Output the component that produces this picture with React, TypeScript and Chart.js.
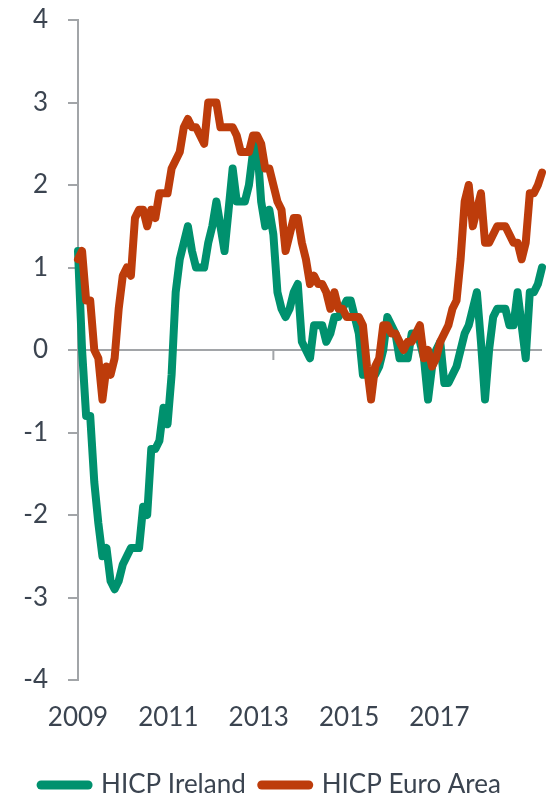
import React, { useEffect, useRef } from 'react';
import { Chart, registerables } from 'chart.js';

Chart.register(...registerables);

const seriesNames = ['HICP Ireland', 'HICP Euro Area'];
const yearLabels = ['2009', '2011', '2013', '2015', '2017'];

// Annual HICP inflation, %, monthly from January 2009 to July 2018
const irelandHicp = [
  1.2, 0.0, -0.8, -0.8, -1.6, -2.1, -2.5, -2.4, -2.8, -2.9, -2.8, -2.6,
  -2.5, -2.4, -2.4, -2.4, -1.9, -2.0, -1.2, -1.2, -1.1, -0.7, -0.9, -0.3,
  0.7, 1.1, 1.3, 1.5, 1.2, 1.0, 1.0, 1.0, 1.3, 1.5, 1.8, 1.5,
  1.2, 1.7, 2.2, 1.8, 1.8, 1.8, 2.0, 2.4, 2.5, 1.8, 1.5, 1.7,
  1.4, 0.7, 0.5, 0.4, 0.5, 0.7, 0.8, 0.1, 0.0, -0.1, 0.3, 0.3,
  0.3, 0.1, 0.2, 0.4, 0.4, 0.5, 0.6, 0.6, 0.4, 0.2, -0.3, -0.3,
  -0.3, -0.3, -0.2, 0.0, 0.4, 0.3, 0.2, -0.1, -0.1, -0.1, 0.2, 0.2,
  0.1, -0.1, -0.6, -0.2, 0.0, 0.1, -0.4, -0.4, -0.3, -0.2, 0.0, 0.2,
  0.3, 0.5, 0.7, 0.1, -0.6, 0.0, 0.4, 0.5, 0.5, 0.5, 0.3, 0.3,
  0.7, 0.3, -0.1, 0.7, 0.7, 0.8, 1.0,
];

const euroAreaHicp = [
  1.1, 1.2, 0.6, 0.6, 0.0, -0.1, -0.6, -0.2, -0.3, -0.1, 0.5, 0.9,
  1.0, 0.9, 1.6, 1.7, 1.7, 1.5, 1.7, 1.6, 1.9, 1.9, 1.9, 2.2,
  2.3, 2.4, 2.7, 2.8, 2.7, 2.7, 2.6, 2.5, 3.0, 3.0, 3.0, 2.7,
  2.7, 2.7, 2.7, 2.6, 2.4, 2.4, 2.4, 2.6, 2.6, 2.5, 2.2, 2.2,
  2.0, 1.8, 1.7, 1.2, 1.4, 1.6, 1.6, 1.3, 1.1, 0.8, 0.9, 0.8,
  0.8, 0.7, 0.5, 0.7, 0.5, 0.5, 0.4, 0.4, 0.4, 0.4, 0.3, -0.2,
  -0.6, -0.2, -0.1, 0.3, 0.3, 0.2, 0.2, 0.1, 0.0, 0.1, 0.1, 0.2,
  0.3, -0.1, 0.0, -0.2, -0.1, 0.1, 0.2, 0.3, 0.5, 0.6, 1.1, 1.8,
  2.0, 1.5, 1.7, 1.9, 1.3, 1.3, 1.4, 1.5, 1.5, 1.5, 1.4, 1.3,
  1.3, 1.1, 1.3, 1.9, 1.9, 2.0, 2.15,
];

const GREEN = '#00916e';
const RUST = '#bd3c0b';
const AXIS_GREY = '#a2a5a8';
const TEXT = '#3b4450';
const TICK_FONT = { family: 'Lato, "Open Sans", sans-serif', size: 26 };
const LEGEND_FONT = { family: 'Lato, "Open Sans", sans-serif', size: 26 };

// Year labels sit a little under every two years apart along the month axis
const LABEL_STEP = 22.2;

// Short downward tick marks on the zero line, every four years
const zeroLineTicks = {
  id: 'zeroLineTicks',
  beforeDatasetsDraw(chart: any) {
    const { ctx } = chart;
    const xs = chart.scales.x;
    const y0 = chart.scales.y.getPixelForValue(0);
    ctx.save();
    ctx.strokeStyle = AXIS_GREY;
    ctx.lineWidth = 2;
    for (const m of [0, 48]) {
      const px = xs.getPixelForValue(m);
      ctx.beginPath();
      ctx.moveTo(px, y0);
      ctx.lineTo(px, y0 + 10);
      ctx.stroke();
    }
    ctx.restore();
  },
};

const toPoints = (values: number[]) => values.map((v, i) => ({ x: i, y: v }));

export default function App() {
  const canvasRef = useRef<HTMLCanvasElement>(null);

  useEffect(() => {
    document.body.style.margin = '0';
    const canvas = canvasRef.current;
    if (!canvas) return;

    const lineStyle = {
      borderWidth: 8,
      pointRadius: 0,
      tension: 0,
      borderJoinStyle: 'round',
      borderCapStyle: 'round',
      clip: 8,
    };

    const chart = new Chart(canvas, {
      type: 'line',
      data: {
        datasets: [
          {
            ...lineStyle,
            label: seriesNames[0],
            data: toPoints(irelandHicp),
            borderColor: GREEN,
            backgroundColor: GREEN,
            order: 2,
          },
          {
            ...lineStyle,
            label: seriesNames[1],
            data: toPoints(euroAreaHicp),
            borderColor: RUST,
            backgroundColor: RUST,
            order: 1,
          },
        ],
      },
      options: {
        responsive: false,
        animation: false,
        events: [],
        layout: { padding: { top: 20, right: 13, bottom: 0, left: 0 } },
        scales: {
          x: {
            type: 'linear',
            min: 0,
            max: euroAreaHicp.length - 1,
            border: { display: false },
            grid: { display: false, drawTicks: false },
            afterBuildTicks: (scale: any) => {
              scale.ticks = yearLabels.map((_, i) => ({ value: i * LABEL_STEP }));
            },
            ticks: {
              autoSkip: false,
              maxRotation: 0,
              padding: 22,
              color: TEXT,
              font: TICK_FONT,
              callback: (_v: any, i: number) => yearLabels[i],
            },
            afterFit: (scale: any) => {
              scale.height = 76;
            },
          },
          y: {
            min: -4,
            max: 4,
            ticks: { stepSize: 1, padding: 20, color: TEXT, font: TICK_FONT },
            border: { display: true, color: AXIS_GREY, width: 2 },
            grid: {
              color: (c: any) => (c.tick && c.tick.value === 0 ? AXIS_GREY : 'rgba(0,0,0,0)'),
              lineWidth: 2,
              tickColor: AXIS_GREY,
              tickLength: 10,
              drawTicks: true,
            },
            afterFit: (scale: any) => {
              scale.width = 78;
              // only half a label of head room above the top tick
              scale.paddingTop = 16;
              scale.paddingBottom = 16;
            },
          },
        },
        plugins: {
          tooltip: { enabled: false },
          legend: {
            position: 'bottom',
            maxHeight: 40,
            labels: {
              usePointStyle: true,
              pointStyleWidth: 47,
              padding: 16,
              color: TEXT,
              font: LEGEND_FONT,
              sort: (a: any, b: any) => a.datasetIndex - b.datasetIndex,
              generateLabels: (c: any) =>
                Chart.defaults.plugins.legend.labels.generateLabels(c).map((item: any) => ({
                  ...item,
                  pointStyle: 'line',
                  lineWidth: 9,
                  lineCap: 'round',
                })),
            },
          },
        },
      },
      plugins: [zeroLineTicks],
    } as any);

    return () => chart.destroy();
  }, []);

  return (
    <div style={{ width: 555, height: 796 }}>
      <canvas ref={canvasRef} width={555} height={796} style={{ display: 'block' }} />
    </div>
  );
}
